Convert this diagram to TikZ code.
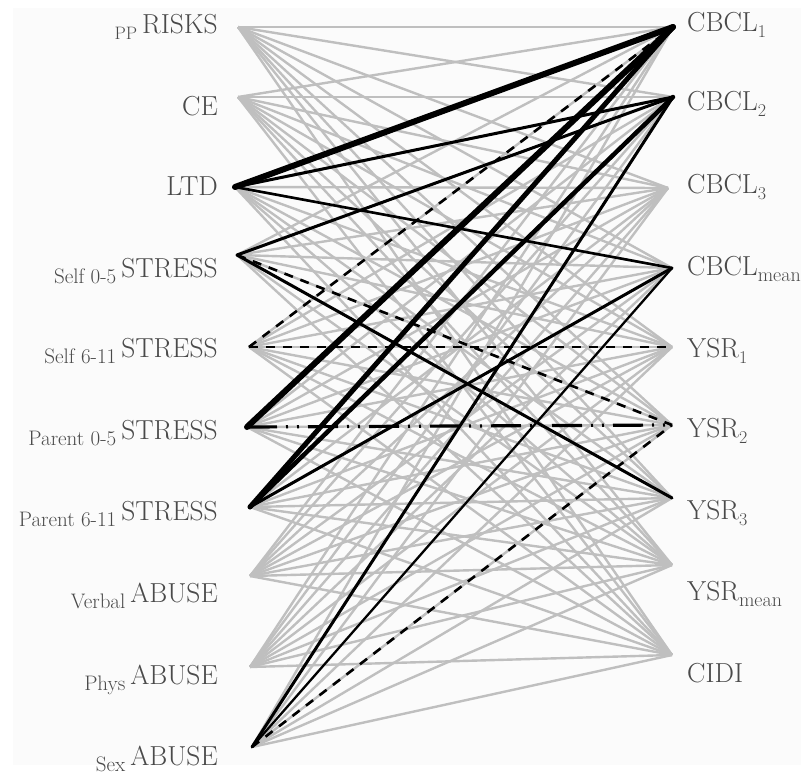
\documentclass[tikz,border=0pt]{standalone}
\usepackage{fontspec}
\definecolor{grayline}{HTML}{BFBFBF}
\definecolor{labgray}{HTML}{4A4A4A}
\definecolor{bggray}{HTML}{FBFBFB}
\newcommand{\pref}[2][21]{\raisebox{-6pt}{\fontsize{#1}{#1}\selectfont #2}\hspace{5pt}}
\newcommand{\subx}[2][18]{\raisebox{-6pt}{\fontsize{#1}{#1}\selectfont #2}}
\begin{document}
\begin{tikzpicture}[x=1pt,y=-1pt,
  gr/.style={draw=grayline, line width=2.4pt},
  bk/.style={draw=black, line width=#1, line cap=round},
  dsh/.style={draw=black, line width=2.6pt, dash pattern=on 9pt off 8pt},
  dd/.style={draw=black, line width=3.2pt, dash pattern=on 30pt off 9pt on 2pt off 9pt on 2pt off 9pt},
  lab/.style={inner sep=0pt, text=labgray, font=\fontsize{27.5}{27.5}\selectfont}]
\useasboundingbox (0,0) rectangle (809,774);
\fill[white] (0,0) rectangle (809,774);
\fill[bggray] (13,8) rectangle (801,765);
% left anchor points
\coordinate (L1) at (238,27);
\coordinate (L2) at (238,97);
\coordinate (L3) at (235,187);
\coordinate (L4) at (237,255);
\coordinate (L5) at (249,347);
\coordinate (L6) at (247,427);
\coordinate (L7) at (250,507);
\coordinate (L8) at (250,576);
\coordinate (L9) at (250,667);
\coordinate (L10) at (252,747);
% right anchor points
\coordinate (R1) at (673,27);
\coordinate (R2) at (673,97);
\coordinate (R3) at (668,188);
\coordinate (R4) at (672,268);
\coordinate (R5) at (672,347);
\coordinate (R6) at (672,425);
\coordinate (R7) at (672,498);
\coordinate (R8) at (672,565);
\coordinate (R9) at (672,655);
% gray connectors
\foreach \i in {1,...,10} {\foreach \j in {1,...,9} {\draw[gr] (L\i) -- (R\j);}}
% black connectors
\draw[bk=6pt] (L3) -- (R1);
\draw[bk=3pt] (L3) -- (R2);
\draw[bk=2.6pt] (L3) -- (R4);
\draw[bk=3pt] (L4) -- (R2);
\draw[bk=3pt] (L4) -- (R7);
\draw[dsh] (L4) -- (R6);
\draw[dsh] (L5) -- (R1);
\draw[dsh] (L5) -- (R5);
\draw[bk=6pt] (L6) -- (R1);
\draw[dd] (L6) -- (R6);
\draw[bk=5pt] (L7) -- (R1);
\draw[bk=4.5pt] (L7) -- (R2);
\draw[bk=3pt] (L7) -- (R4);
\draw[bk=3pt] (L10) -- (R2);
\draw[bk=2.2pt] (L10) -- (R4);
\draw[dsh] (L10) -- (R6);
% left labels
\node[lab, anchor=base east] (tPP) at (218,33) {\pref[18]{PP}RISKS};
\node[lab, anchor=base east] (tCE) at (218,115) {CE};
\node[lab, anchor=base east] (tLTD) at (218,195) {LTD};
\node[lab, anchor=base east] (tS05) at (218,277) {\pref{Self 0-5}STRESS};
\node[lab, anchor=base east] (tS611) at (218,357) {\pref{Self 6-11}STRESS};
\node[lab, anchor=base east] (tP05) at (218,439) {\pref{Parent 0-5}STRESS};
\node[lab, anchor=base east] (tP611) at (218,520) {\pref{Parent 6-11}STRESS};
\node[lab, anchor=base east] (tVA) at (218,602) {\pref{Verbal}ABUSE};
\node[lab, anchor=base east] (tPA) at (218,684) {\pref{Phys}ABUSE};
\node[lab, anchor=base east] (tSA) at (218,765) {\pref{Sex}ABUSE};
% right labels
\node[lab, anchor=base west] (tC1) at (687,31) {CBCL\subx{1}};
\node[lab, anchor=base west] (tC2) at (687,110) {CBCL\subx{2}};
\node[lab, anchor=base west] (tC3) at (687,193) {CBCL\subx{3}};
\node[lab, anchor=base west] (tCm) at (687,275) {CBCL\subx[20]{mean}};
\node[lab, anchor=base west] (tY1) at (687,357) {YSR\subx{1}};
\node[lab, anchor=base west] (tY2) at (687,437) {YSR\subx{2}};
\node[lab, anchor=base west] (tY3) at (687,519) {YSR\subx{3}};
\node[lab, anchor=base west] (tYm) at (687,600) {YSR\subx[20]{mean}};
\node[lab, anchor=base west] (tCI) at (687,682) {CIDI};
\end{tikzpicture}
\end{document}
